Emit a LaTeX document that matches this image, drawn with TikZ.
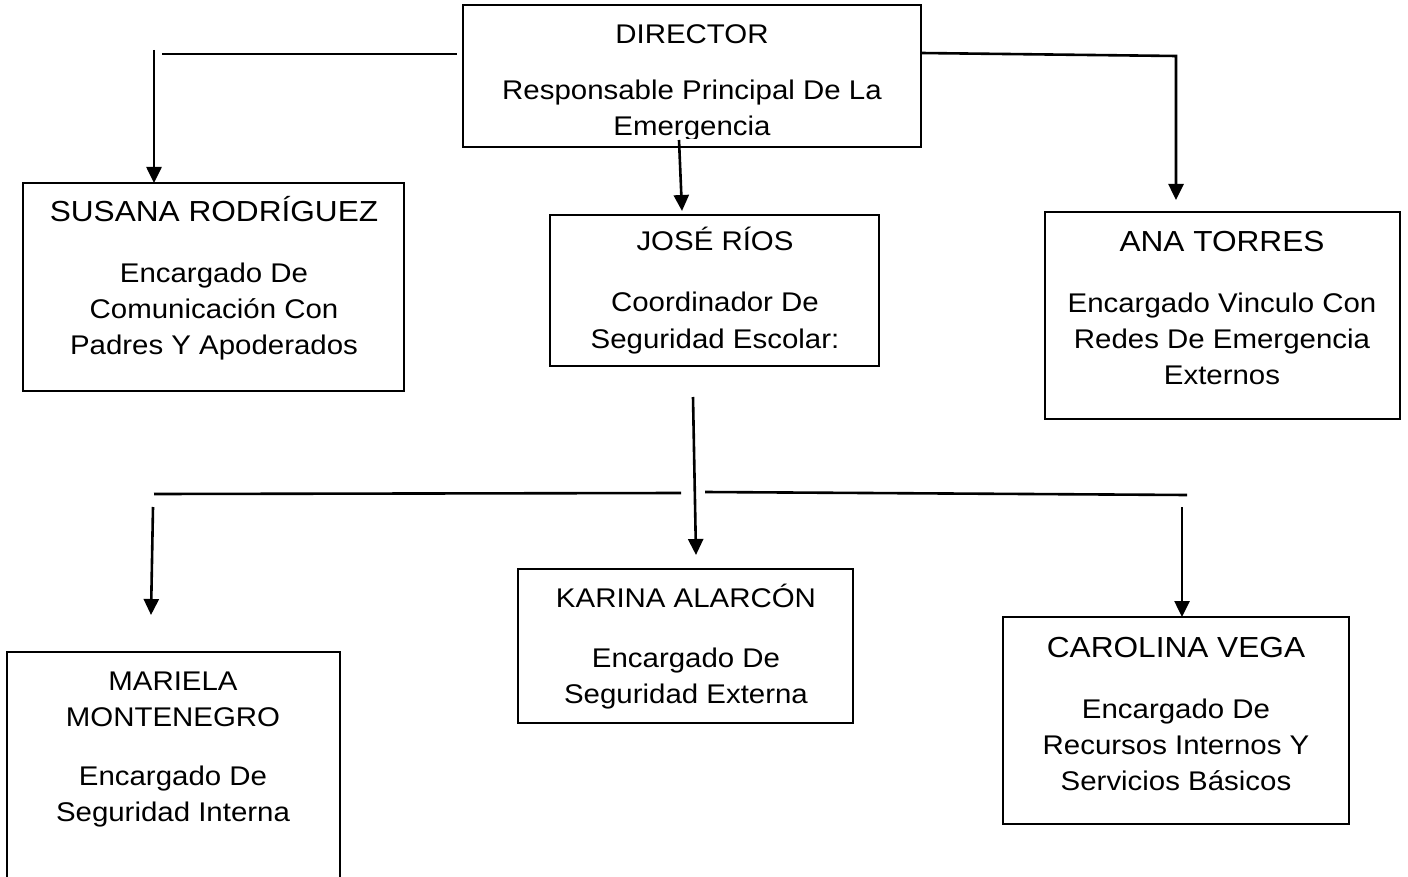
\documentclass[tikz,border=0pt]{standalone}
\usepackage{fontspec}
\setmainfont{Liberation Sans}[FakeStretch=1.09]
\usetikzlibrary{arrows.meta}
\newcommand{\nombre}[1]{{\fontsize{29}{36}\selectfont #1}}

\begin{document}
\begin{tikzpicture}[x=1pt,y=-1pt,
    caja/.style={draw, line width=1.2pt, inner sep=0pt, outer sep=0pt, anchor=north west},
    texto/.style={font=\fontsize{27}{36}\selectfont, align=center, inner sep=0pt, anchor=base},
    linea/.style={line width=2.6pt},
    flecha/.style={line width=2.6pt, -{Triangle[width=15pt,length=16pt]}}]
    \useasboundingbox (0,0) rectangle (1408,877);

    % cajas
    \node[caja, minimum width=458pt, minimum height=142pt] (director) at (463,5) {};
    \node[caja, minimum width=381pt, minimum height=208pt] (susana) at (23,183) {};
    \node[caja, minimum width=329pt, minimum height=151pt] (jose) at (550,215) {};
    \node[caja, minimum width=355pt, minimum height=207pt] (ana) at (1045,212) {};
    \node[caja, minimum width=333pt, minimum height=268pt] (mariela) at (7,652) {};
    \node[caja, minimum width=335pt, minimum height=154pt] (karina) at (518,569) {};
    \node[caja, minimum width=346pt, minimum height=207pt] (carolina) at (1003,617) {};

    % textos (a la linea base de la ultima linea)
    \begin{scope}
        \clip (director.north west) rectangle ([yshift=8pt]director.south east);
        \node[texto] (directorT) at (692,136) {DIRECTOR\\[20pt]Responsable Principal De La\\Emergencia};
    \end{scope}
    \node[texto] (susanaT) at (214,354) {\nombre{SUSANA RODRÍGUEZ}\\[25pt]Encargado De\\Comunicación Con\\Padres Y Apoderados};
    \node[texto] (joseT) at (715,348) {JOSÉ RÍOS\\[25pt]Coordinador De\\Seguridad Escolar:};
    \node[texto] (anaT) at (1222,384) {\nombre{ANA TORRES}\\[25pt]Encargado Vinculo Con\\Redes De Emergencia\\Externos};
    \node[texto] (marielaT) at (173,821) {MARIELA\\MONTENEGRO\\[23pt]Encargado De\\Seguridad Interna};
    \node[texto] (karinaT) at (686,703) {KARINA ALARCÓN\\[24pt]Encargado De\\Seguridad Externa};
    \node[texto] (carolinaT) at (1176,790) {\nombre{CAROLINA VEGA}\\[25pt]Encargado De\\Recursos Internos Y\\Servicios Básicos};

    % conectores de arriba
    \coordinate (izqV) at (154,50);
    \coordinate (izqH) at (162,54);
    \coordinate (dirI) at (457,54);
    \coordinate (dirD) at (921,53);
    \coordinate (derH) at (1176,56);
    \coordinate (derV) at (1176,200);
    \coordinate (dirC) at (679,140);
    \coordinate (joseA) at (682,211);
    \draw[flecha] (izqV) -- (izqV |- susana.north);
    \draw[linea] (izqH) -- (dirI);
    \draw[flecha] (dirD) -- (derH) -- (derV);
    \draw[flecha] (dirC) -- (joseA);

    % conectores de abajo
    \coordinate (joseB) at (693,397);
    \coordinate (karinaA) at (696,555);
    \coordinate (horI1) at (154,494);
    \coordinate (horI2) at (681,493);
    \coordinate (horD1) at (705,492);
    \coordinate (horD2) at (1187,495);
    \coordinate (abI1) at (153,507);
    \coordinate (abI2) at (151,615);
    \coordinate (abD) at (1182,507);
    \draw[flecha] (joseB) -- (karinaA);
    \draw[linea] (horI1) -- (horI2);
    \draw[linea] (horD1) -- (horD2);
    \draw[flecha] (abI1) -- (abI2);
    \draw[flecha] (abD) -- (abD |- carolina.north);
\end{tikzpicture}
\end{document}
